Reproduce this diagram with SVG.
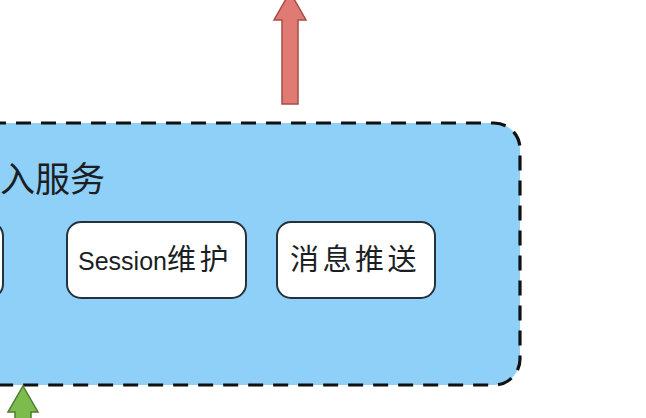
<svg xmlns="http://www.w3.org/2000/svg" width="646" height="418" viewBox="0 0 646 418">
  <defs>
    <style>
      .group-box { fill: #8fd0f8; stroke: #111; stroke-width: 3.2; stroke-dasharray: 15 10; }
      .node-box { fill: #ffffff; stroke: #27313b; stroke-width: 2; }
      .label { font-family: "Liberation Sans", "Noto Sans CJK SC", sans-serif; fill: #1b1f24; }
      .title { font-size: 35px; }
      .node-text { font-size: 25px; }
      .cjk { font-size: 29px; letter-spacing: 3.5px; }
    </style>
  </defs>
  <rect width="646" height="418" fill="#ffffff"/>

  <!-- access service container -->
  <g id="access-service">
    <rect class="group-box" x="-60" y="123" width="580" height="262" rx="26" ry="26"/>
    <text class="label title" x="0" y="192">入服务</text>
  </g>

  <g id="node-left">
    <rect class="node-box" x="-170" y="222" width="173" height="76" rx="14" ry="14"/>
  </g>

  <g id="node-session">
    <rect class="node-box" x="67" y="222" width="179" height="76" rx="14" ry="14"/>
    <text class="label node-text" x="78" y="270">Session<tspan class="cjk">维护</tspan></text>
  </g>

  <g id="node-push">
    <rect class="node-box" x="277" y="222" width="158" height="76" rx="14" ry="14"/>
    <text class="label node-text" x="290" y="270"><tspan class="cjk">消息推送</tspan></text>
  </g>

  <!-- connectors -->
  <g id="connectors">
    <path d="M282 104 L282 20 L274 20 L290 -8 L306 20 L298 20 L298 104 Z" fill="#e07b73" stroke="#a84c45" stroke-width="1.5"/>
    <path d="M23 386 L38 412 L31 412 L31 430 L15 430 L15 412 L8 412 Z" fill="#7dbb4c" stroke="#4d7d2c" stroke-width="1.5"/>
  </g>
</svg>
